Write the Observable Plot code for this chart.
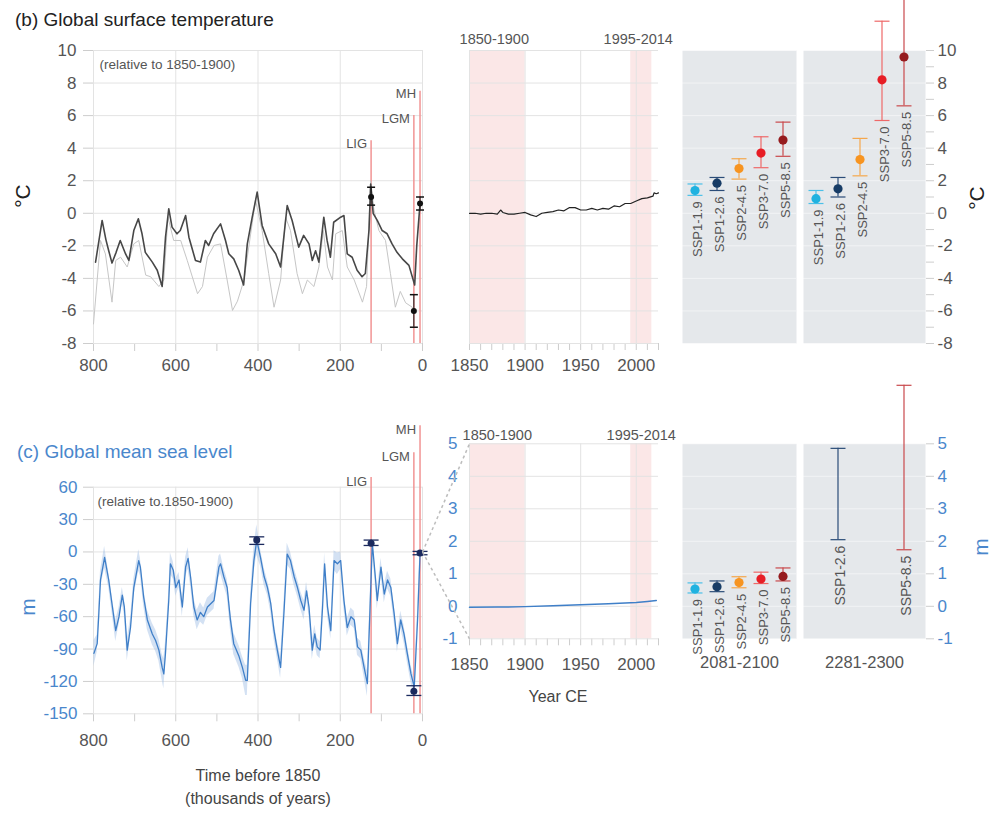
<!DOCTYPE html>
<html><head><meta charset="utf-8">
<script src="https://cdn.jsdelivr.net/npm/d3@7"></script>
<script src="https://cdn.jsdelivr.net/npm/@observablehq/plot@0.6"></script>
<style>
body{margin:0;background:#fff;}
#fig{position:relative;width:990px;height:814px;overflow:hidden;background:#fff;font-family:'Liberation Sans',Arial,sans-serif;}
.lbl{position:absolute;white-space:nowrap;line-height:1;}
.c{transform:translate(-50%,-50%);}
.r{transform:translate(-50%,-50%) rotate(-90deg);}
svg g[aria-label="x-axis tick"], svg g[aria-label="y-axis tick"] {stroke:#cdcdcd;}
svg g[aria-label="x-axis"] line, svg g[aria-label="y-axis"] line {stroke:#cdcdcd;}
svg g[aria-label="x-axis"] path.domain, svg g[aria-label="y-axis"] path.domain {display:none;}
svg.blueY g[aria-label="y-axis tick label"], svg.blueY g[aria-label="y-axis"] text {fill:#4a87cc;}
</style></head>
<body>
<div id="fig">
  <div class="lbl" style="left:15px;top:10px;font-size:19px;color:#222;">(b) Global surface temperature</div>
  <div class="lbl" style="left:17px;top:442px;font-size:19px;color:#4a87cc;">(c) Global mean sea level</div>
  <div class="lbl r" style="left:22px;top:196px;font-size:21px;color:#222;">°C</div>
  <div class="lbl r" style="left:976px;top:198px;font-size:21px;color:#222;">°C</div>
  <div class="lbl r" style="left:27px;top:607px;font-size:21px;color:#4a87cc;">m</div>
  <div class="lbl r" style="left:980px;top:547px;font-size:21px;color:#4a87cc;">m</div>
  <div class="lbl c" style="left:258px;top:776px;font-size:16px;color:#444;">Time before 1850</div>
  <div class="lbl c" style="left:258px;top:799px;font-size:16px;color:#444;">(thousands of years)</div>
  <div class="lbl c" style="left:558px;top:697px;font-size:16px;color:#444;">Year CE</div>
</div>
<script>
// ---------------- data ----------------
// Paleo global surface temperature (°C rel. 1850-1900), age in thousands of years before 1850
const tempAge  = [795,779,770,763,755,745,735,722,714,702,691,682,674,657,645,633,625,617,609,597,589,576,568,552,540,528,520,508,491,479,471,459,447,435,426,414,402,390,374,357,345,329,317,301,289,276,268,260,252,240,232,224,216,199,191,183,171,159,147,139,130,126,120,110,98,86,74,62,49,33,19,14,6];
const tempDark = [-3.0,-0.44,-1.6,-2.3,-3.06,-2.4,-1.67,-2.5,-2.9,-1.06,-0.34,-1.26,-2.4,-3.0,-3.5,-4.5,-1.5,0.28,-0.85,-1.26,-1.06,-0.14,-1.47,-2.9,-3.0,-1.67,-1.98,-1.26,-0.65,-1.67,-2.49,-2.8,-3.5,-4.4,-1.88,-0.24,1.3,-0.75,-1.88,-2.49,-3.3,0.48,-0.44,-2.08,-1.36,-1.88,-2.9,-2.3,-3.0,-0.24,-1.67,-2.7,-0.55,-0.24,-0.14,-2.49,-2.7,-3.5,-3.9,-3.7,-1.0,1.8,0.0,-0.44,-1.06,-1.26,-1.88,-2.4,-2.8,-3.2,-4.4,-2.0,0.6];
const lightAge = [800,783,771,755,746,734,718,702,690,673,661,641,629,619,605,588,572,547,535,523,507,491,475,462,450,434,406,390,374,361,345,333,321,305,292,280,264,252,241,231,219,211,195,183,166,146,136,126,118,106,90,78,66,54,41,25,21];
const tempLight = [-6.8,-1.67,-2.5,-5.46,-2.9,-2.7,-3.3,-1.88,-1.67,-3.8,-3.9,-4.5,-4.1,-0.24,-1.67,-1.67,-2.9,-4.94,-4.5,-2.7,-1.98,-1.88,-4.1,-5.97,-5.4,-4.1,0.8,-1.06,-3.7,-5.77,-4.1,-0.24,-1.06,-3.7,-4.94,-4.1,-4.5,-3.3,-1.06,-3.3,-4.1,-1.26,-1.06,-3.3,-4.1,-5.46,-4.5,2.0,0.2,-1.06,-1.67,-3.7,-5.77,-4.8,-5.5,-5.77,-6.0];

// Paleo reference periods
const eventName  = ["LIG","LGM","MH"];
const eventAge   = [125,21,6];
const eventTopT  = [4.45,6.0,7.5];
const eventTopSL = [69,92,117];

// Paleo temperature assessments
const paleoTAge = [125,21,6];
const paleoTMid = [1.0,-6.0,0.6];
const paleoTLo  = [0.5,-7.0,0.2];
const paleoTHi  = [1.6,-5.0,1.0];

// Paleo sea level (m rel. 1850-1900)
const slAge = [799,791,787,783,773,763,754,746,738,730,725,718,710,702,690,686,678,669,657,649,641,633,629,625,617,613,606,600,592,584,576,570,564,556,548,540,532,523,507,495,491,483,475,467,459,446,438,430,426,418,410,403,394,385,377,369,361,353,345,337,329,321,312,304,296,288,282,276,268,262,256,249,243,238,231,223,215,207,199,191,183,174,166,158,150,142,134,122,114,110,101,93,85,77,69,61,53,45,37,28,20,12,6];
const slVal = [-94,-85,-57,-26,-5,-26,-51,-73,-60,-40,-51,-91,-70,-33,-8,-14,-42,-63,-76,-82,-91,-107,-113,-94,-45,-11,-17,-33,-26,-51,-14,-6,-23,-51,-63,-56,-60,-51,-45,-14,-11,-23,-33,-63,-85,-97,-107,-119,-119,-48,-8,11,-5,-23,-33,-48,-73,-91,-107,-57,-2,-8,-23,-33,-45,-54,-36,-51,-91,-76,-88,-91,-51,-11,-51,-73,-8,-11,-8,-45,-70,-60,-63,-88,-91,-107,-122,8,-26,-45,-14,-39,-26,-33,-57,-85,-63,-76,-94,-113,-125,-63,-2];
const slUnc = [12,8,8,8,10,7,8,10,8,7, 8,10,8,8,10,8,8,9,10,10, 10,12,14,10,8,10,8,8,7,9, 9,10,8,8,9,9,8,8,8,10, 9,8,8,9,10,10,10,14,14,10, 12,14,8,8,7,8,8,8,10,10, 10,8,8,8,8,9,8,8,9,8, 8,8,8,10,8,8,9,10,8,8, 8,8,8,8,8,9,12,6,8,8, 8,8,8,8,8,8,8,8,8,8, 8,8,6];

// Paleo sea level assessments
const paleoSLAge = [403,125,21,6];
const paleoSLMid = [11,8,-129,-1];
const paleoSLLo  = [7,6,-133,-2.6];
const paleoSLHi  = [14,11,-124,0.5];

// Instrumental period
const instYears = [1850,1855,1860,1865,1870,1875,1878,1880,1885,1890,1895,1900,1905,1910,1915,1920,1925,1930,1935,1940,1945,1950,1955,1960,1965,1970,1975,1980,1985,1990,1995,2000,2005,2010,2015,2016,2018,2020];
const instTemp  = [0.0,0.0,-0.05,0.0,0.0,-0.05,0.2,0.05,-0.05,-0.05,0.0,0.05,-0.1,-0.2,0.0,0.05,0.1,0.2,0.15,0.35,0.35,0.2,0.2,0.3,0.2,0.3,0.25,0.45,0.4,0.6,0.6,0.75,0.9,0.95,1.05,1.25,1.2,1.25];
const slInstYears = [1850,1875,1900,1925,1950,1975,2000,2010,2018];
const slInstVal   = [-0.03,-0.025,-0.01,0.02,0.05,0.08,0.12,0.15,0.18];

const periodLabel = ["1850-1900","1995-2014"];
const periodStart = [1850,1995];
const periodEnd   = [1900,2014];

// Projections
const ssp = ["SSP1-1.9","SSP1-2.6","SSP2-4.5","SSP3-7.0","SSP5-8.5"];
const sspColor    = ["#1fb2e0","#173c66","#f79420","#e71d25","#951b1e"];
const sspBarColor = ["#4cc0e8","#2b4c78","#f5a74c","#ee6868","#c9494c"];
const gst2100Mid = [1.4,1.85,2.75,3.7,4.5];
const gst2100Lo  = [1.1,1.4,2.1,2.8,3.5];
const gst2100Hi  = [1.8,2.2,3.35,4.7,5.6];
const gst2300Mid = [0.9,1.5,3.3,8.2,9.6];
const gst2300Lo  = [0.6,1.0,2.3,5.7,6.6];
const gst2300Hi  = [1.4,2.2,4.6,11.8,14.1];
const gmsl2100Mid = [0.53,0.60,0.73,0.84,0.92];
const gmsl2100Lo  = [0.41,0.45,0.57,0.70,0.78];
const gmsl2100Hi  = [0.72,0.78,0.91,1.05,1.18];
const gmsl2300Ssp = ["SSP1-2.6","SSP5-8.5"];
const gmsl2300Lo  = [2.05,1.74];
const gmsl2300Hi  = [4.86,6.8];

const tempTicks = [-8,-6,-4,-2,0,2,4,6,8,10];
const slPaleoTicks = [-150,-120,-90,-60,-30,0,30,60];
const slTicks = [-1,0,1,2,3,4,5];
const ageTicks = [800,600,400,200,0];
const yearTicks = [1850,1900,1950,2000];
const periodNames = ["2081-2100","2281-2300"];

// ---------------- helpers ----------------
const FONT = "'Liberation Sans',Arial,sans-serif";
const GRID = "#e3e3e3", PINK = "#fbe7e7", RED = "#f19494", GRAYBG = "#e5e8eb";
const baseStyle = {background: "transparent", overflow: "visible", fontFamily: FONT, fontSize: "17px", color: "#555"};
const fig = document.getElementById("fig");
function place(svg, left, top, cls) {
  svg.style.position = "absolute";
  svg.style.left = left + "px";
  svg.style.top = top + "px";
  svg.style.maxWidth = "none";
  if (cls) svg.classList.add(cls);
  fig.appendChild(svg);
}
const capSym = {draw(ctx, size) { const r = Math.sqrt(size / Math.PI); ctx.moveTo(-r, 0); ctx.lineTo(r, 0); }};
const fmt = d => String(d);

const darkRows = tempAge.map((a, i) => ({age: a, t: tempDark[i]}));
const lightRows = lightAge.map((a, i) => ({age: a, t: tempLight[i]}));
const events = eventName.map((n, i) => ({name: n, age: eventAge[i], topT: eventTopT[i], topSL: eventTopSL[i]}));
const paleoT = paleoTAge.map((a, i) => ({age: a, mid: paleoTMid[i], lo: paleoTLo[i], hi: paleoTHi[i]}));
const slRows = slAge.map((a, i) => ({age: a, v: slVal[i], lo: slVal[i] - slUnc[i], hi: slVal[i] + slUnc[i]}));
const paleoSL = paleoSLAge.map((a, i) => ({age: a, mid: paleoSLMid[i], lo: paleoSLLo[i], hi: paleoSLHi[i]}));
const inst = instYears.map((y, i) => ({year: y, v: instTemp[i]}));
const slInst = slInstYears.map((y, i) => ({year: y, v: slInstVal[i]}));
const periods = periodLabel.map((l, i) => ({label: l, start: periodStart[i], end: periodEnd[i]}));

const ageX = {domain: [800, 0], ticks: d3.range(0, 801, 100), tickFormat: d => d % 200 === 0 ? String(d) : "", tickSize: 8, label: null};
const yearX = {domain: [1850, 2020], ticks: d3.range(1850, 2021, 10), tickFormat: d => d % 50 === 0 ? String(d) : "", tickSize: 7, label: null};

// ---------------- (b) paleo temperature ----------------
place(Plot.plot({
  width: 440, height: 390, marginLeft: 93, marginRight: 18, marginTop: 50, marginBottom: 47,
  style: baseStyle,
  x: {...ageX, tickPadding: 7},
  y: {domain: [-8, 10], ticks: tempTicks, tickFormat: fmt, tickSize: 10, tickPadding: 7, label: null},
  marks: [
    Plot.ruleY(tempTicks, {stroke: GRID}),
    Plot.ruleX(ageTicks, {stroke: GRID}),
    Plot.text(["(relative to 1850-1900)"], {text: d => d, frameAnchor: "top-left", textAnchor: "start", dx: 6, dy: 9, fontSize: 13.5, fill: "#555"}),
    Plot.ruleX(events, {x: "age", y1: -8, y2: "topT", stroke: RED, strokeWidth: 1.5}),
    Plot.text(events, {x: "age", y: "topT", text: "name", textAnchor: "end", dx: -4, dy: 3, fontSize: 13, fill: "#555"}),
    Plot.line(lightRows, {x: "age", y: "t", stroke: "#c6c6c6", strokeWidth: 1}),
    Plot.line(darkRows, {x: "age", y: "t", stroke: "#474747", strokeWidth: 1.6}),
    Plot.ruleX(paleoT, {x: "age", y1: "lo", y2: "hi", stroke: "#111"}),
    Plot.dot(paleoT, {x: "age", y: "lo", symbol: capSym, r: 4, stroke: "#111", fill: "none"}),
    Plot.dot(paleoT, {x: "age", y: "hi", symbol: capSym, r: 4, stroke: "#111", fill: "none"}),
    Plot.dot(paleoT, {x: "age", y: "mid", r: 3, fill: "#111", stroke: "none"})
  ]
}), 0, 0);

// ---------------- instrumental temperature ----------------
place(Plot.plot({
  width: 230, height: 390, marginLeft: 29, marginRight: 12, marginTop: 50, marginBottom: 47,
  style: baseStyle,
  x: {...yearX, tickPadding: 8},
  y: {domain: [-8, 10], axis: null},
  marks: [
    Plot.rect(periods, {x1: "start", x2: "end", fill: PINK}),
    Plot.ruleY(tempTicks, {stroke: GRID}),
    Plot.ruleX(yearTicks, {stroke: GRID}),
    Plot.text(periods, {x: d => (d.start + d.end) / 2, text: "label", frameAnchor: "top", lineAnchor: "bottom", dy: -7, dx: -3, fontSize: 14.5, fill: "#555"}),
    Plot.line(inst, {x: "year", y: "v", stroke: "#222", strokeWidth: 1.2})
  ]
}), 440, 0);

// ---------------- projection panels ----------------
function projPanel(o) {
  const rows = o.names.map((s, i) => ({
    ssp: s, color: sspColor[ssp.indexOf(s)], bar: sspBarColor[ssp.indexOf(s)],
    mid: o.mid ? o.mid[i] : null, lo: o.lo[i], hi: o.hi[i]
  }));
  const marks = [
    Plot.frame({fill: GRAYBG, stroke: "none"}),
    Plot.ruleY(o.grid, {stroke: "#ffffff", strokeOpacity: 0.5}),
    Plot.ruleX(rows, {x: "ssp", y1: "lo", y2: "hi", stroke: "bar", strokeWidth: 1.2}),
    Plot.dot(rows, {x: "ssp", y: "lo", symbol: capSym, r: 7.5, stroke: "bar", fill: "none", strokeWidth: 1.2}),
    Plot.dot(rows, {x: "ssp", y: "hi", symbol: capSym, r: 7.5, stroke: "bar", fill: "none", strokeWidth: 1.2})
  ];
  if (o.mid) marks.push(Plot.dot(rows, {x: "ssp", y: "mid", r: 4.6, fill: "color", stroke: "none"}));
  marks.push(Plot.text(rows, {x: "ssp", y: "lo", text: "ssp", rotate: -90, textAnchor: "end", lineAnchor: "middle", dx: 3, dy: 6, fontSize: o.labelSize, fill: "#555"}));
  if (o.facet) marks.push(Plot.text([o.facet], {text: d => d, frameAnchor: "bottom", lineAnchor: "top", dy: 17, fontSize: 16.5, fill: "#555"}));
  const y = o.axis
    ? {domain: o.domain, ticks: o.axisTicks, tickFormat: o.axisFormat, axis: "right", tickSize: 8, tickPadding: 4, label: null}
    : {domain: o.domain, axis: null};
  const svg = Plot.plot({
    width: o.width, height: o.height, marginLeft: o.mL, marginRight: o.mR, marginTop: o.mT, marginBottom: o.mB,
    style: baseStyle,
    x: {type: "band", domain: ssp, range: [o.mL, o.mL + 114], paddingInner: 0.3, paddingOuter: 0.13, axis: null},
    y, color: {type: "identity"},
    marks
  });
  place(svg, o.left, o.top, o.cls);
}

projPanel({left: 670, top: 0, width: 130, height: 390, mL: 12, mR: 4, mT: 50, mB: 47, labelSize: 13,
  domain: [-8, 10], grid: tempTicks, names: ssp, mid: gst2100Mid, lo: gst2100Lo, hi: gst2100Hi});
projPanel({left: 800, top: 0, width: 190, height: 390, mL: 3, mR: 65, mT: 50, mB: 47, labelSize: 13,
  domain: [-8, 10], grid: tempTicks, names: ssp, mid: gst2300Mid, lo: gst2300Lo, hi: gst2300Hi,
  axis: true, axisTicks: d3.range(-8, 11, 1), axisFormat: d => d % 2 === 0 ? String(d) : ""});

// ---------------- (c) paleo sea level ----------------
const D = Plot.plot({
  width: 440, height: 444, marginLeft: 93, marginRight: 18, marginTop: 116.7, marginBottom: 100.7,
  style: baseStyle,
  x: {...ageX, tickPadding: 12},
  y: {domain: [-150, 60], ticks: slPaleoTicks, tickFormat: fmt, tickSize: 10, tickPadding: 6, label: null},
  marks: [
    Plot.ruleY(slPaleoTicks, {stroke: GRID}),
    Plot.ruleX(ageTicks, {stroke: GRID}),
    Plot.text(["(relative to.1850-1900)"], {text: d => d, frameAnchor: "top-left", textAnchor: "start", dx: 4, dy: 9, fontSize: 13.5, fill: "#555"}),
    Plot.ruleX(events, {x: "age", y1: -150, y2: "topSL", stroke: RED, strokeWidth: 1.5}),
    Plot.text(events, {x: "age", y: "topSL", text: "name", textAnchor: "end", dx: -4, dy: 4, fontSize: 13, fill: "#555"}),
    Plot.areaY(slRows, {x: "age", y1: "lo", y2: "hi", fill: "#a7c3e8", fillOpacity: 0.5}),
    Plot.line(slRows, {x: "age", y: "v", stroke: "#3f7fc8", strokeWidth: 1.3}),
    Plot.ruleX(paleoSL, {x: "age", y1: "lo", y2: "hi", stroke: "#1b2a5e"}),
    Plot.dot(paleoSL, {x: "age", y: "lo", symbol: capSym, r: 7.5, stroke: "#1b2a5e", fill: "none", strokeWidth: 1.3}),
    Plot.dot(paleoSL, {x: "age", y: "hi", symbol: capSym, r: 7.5, stroke: "#1b2a5e", fill: "none", strokeWidth: 1.3}),
    Plot.dot(paleoSL, {x: "age", y: "mid", r: 3.5, fill: "#1b2a5e", stroke: "none"})
  ]
});
place(D, 0, 370, "blueY");

// ---------------- instrumental sea level ----------------
// zoom connectors: from the present-day end of the paleo panel (0 ka, 0 m) to the corners of this panel
const E_LEFT = 440, E_TOP = 370;
const eOpts = {
  width: 230, height: 444, marginLeft: 29, marginRight: 12, marginTop: 73.3, marginBottom: 175.7,
  domainX: [1850, 2020], domainY: [-1, 5]
};
const ex = d3.scaleLinear(eOpts.domainX, [eOpts.marginLeft, eOpts.width - eOpts.marginRight]);
const ey = d3.scaleLinear(eOpts.domainY, [eOpts.height - eOpts.marginBottom, eOpts.marginTop]);
const startPx = D.scale("x").apply(0) - E_LEFT, startPy = D.scale("y").apply(0);
const connectors = [eOpts.domainY[1], eOpts.domainY[0]].map(yv => ({
  x1: ex.invert(startPx), y1: ey.invert(startPy), x2: eOpts.domainX[0], y2: yv
}));

place(Plot.plot({
  width: eOpts.width, height: eOpts.height, marginLeft: eOpts.marginLeft, marginRight: eOpts.marginRight,
  marginTop: eOpts.marginTop, marginBottom: eOpts.marginBottom,
  style: baseStyle,
  x: {...yearX, domain: eOpts.domainX, tickPadding: 12},
  y: {domain: eOpts.domainY, ticks: slTicks, tickFormat: fmt, tickSize: 0, tickPadding: 12, label: null},
  marks: [
    Plot.rect(periods, {x1: "start", x2: "end", fill: PINK}),
    Plot.ruleY(slTicks, {stroke: GRID}),
    Plot.ruleX(yearTicks, {stroke: GRID}),
    Plot.link(connectors, {x1: "x1", y1: "y1", x2: "x2", y2: "y2", stroke: "#bdbdbd", strokeWidth: 1.5, strokeDasharray: "3,3"}),
    Plot.text(periods, {x: d => (d.start + d.end) / 2, text: "label", frameAnchor: "top", lineAnchor: "bottom", dy: -4, dx: 0, fontSize: 14.5, fill: "#555"}),
    Plot.line(slInst, {x: "year", y: "v", stroke: "#3f7fc8", strokeWidth: 1.5})
  ]
}), E_LEFT, E_TOP, "blueY");

projPanel({left: 670, top: 370, width: 130, height: 444, mL: 12, mR: 4, mT: 73.3, mB: 175.7, labelSize: 13,
  domain: [-1, 5], grid: slTicks, names: ssp, mid: gmsl2100Mid, lo: gmsl2100Lo, hi: gmsl2100Hi, facet: periodNames[0]});
projPanel({left: 800, top: 370, width: 190, height: 444, mL: 3, mR: 65, mT: 73.3, mB: 175.7, labelSize: 14,
  domain: [-1, 5], grid: slTicks, names: gmsl2300Ssp, lo: gmsl2300Lo, hi: gmsl2300Hi, facet: periodNames[1],
  axis: true, axisTicks: slTicks, axisFormat: fmt, cls: "blueY"});
</script>
</body></html>
